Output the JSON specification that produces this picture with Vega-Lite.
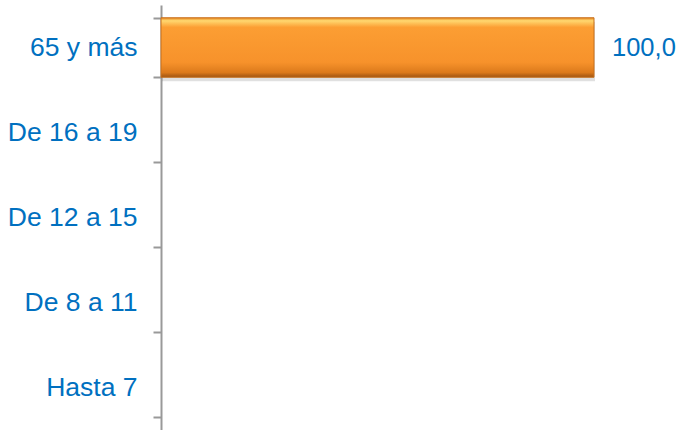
{
  "$schema": "https://vega.github.io/schema/vega-lite/v6.json",
  "width": 433,
  "height": 425,
  "autosize": "none",
  "padding": {"left": 161, "top": 5, "right": 85, "bottom": 0},
  "background": "white",
  "config": {"view": {"stroke": null}, "font": "Liberation Sans"},
  "data": {"values": [
    {"grupo": "65 y más", "valor": 100.0, "etiqueta": "100,0"},
    {"grupo": "De 16 a 19", "valor": 0, "etiqueta": ""},
    {"grupo": "De 12 a 15", "valor": 0, "etiqueta": ""},
    {"grupo": "De 8 a 11", "valor": 0, "etiqueta": ""},
    {"grupo": "Hasta 7", "valor": 0, "etiqueta": ""}
  ]},
  "encoding": {
    "y": {
      "field": "grupo", "type": "nominal", "sort": null,
      "scale": {"paddingInner": 0.3, "paddingOuter": 0.15, "domain": ["65 y más", "De 16 a 19", "De 12 a 15", "De 8 a 11", "Hasta 7"]},
      "axis": {
        "title": null, "tickBand": "extent", "domainColor": "#999999", "domainWidth": 2,
        "tickColor": "#999999", "tickWidth": 2, "tickSize": 8, "labelPadding": 16,
        "labelColor": "#0070C0", "labelFontSize": 26.5, "labelFont": "Liberation Sans"
      }
    },
    "x": {"field": "valor", "type": "quantitative", "scale": {"domain": [0, 100]}, "axis": null}
  },
  "layer": [
    {
      "transform": [{"filter": "datum.valor > 0"}],
      "mark": {"type": "bar", "color": "#000000", "opacity": 0.12, "yOffset": 4, "xOffset": 1},
      "encoding": {}
    },
    {
      "transform": [{"filter": "datum.valor > 0"}],
      "mark": {
        "type": "bar",
        "color": {
          "gradient": "linear", "x1": 0, "y1": 0, "x2": 0, "y2": 1,
          "stops": [
            {"offset": 0, "color": "#E8841E"},
            {"offset": 0.05, "color": "#FFD870"},
            {"offset": 0.16, "color": "#FC9E33"},
            {"offset": 0.75, "color": "#F7922B"},
            {"offset": 0.92, "color": "#DC7A1C"},
            {"offset": 1, "color": "#9E5312"}
          ]
        },
        "stroke": "#C8701C", "strokeWidth": 1
      }
    },
    {
      "mark": {"type": "text", "align": "left", "dx": 18, "fontSize": 25.5, "color": "#0070C0", "font": "Liberation Sans"},
      "encoding": {"text": {"field": "etiqueta"}}
    }
  ]
}
